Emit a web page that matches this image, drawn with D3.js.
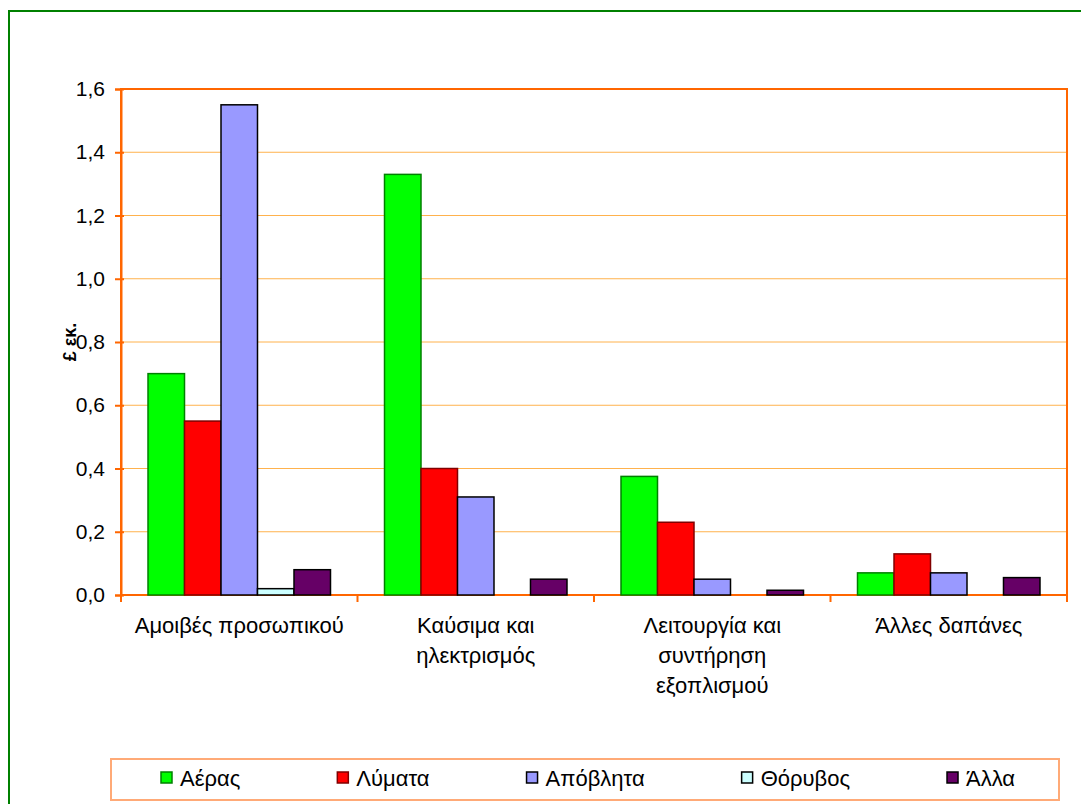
<!doctype html>
<html lang="el">
<head>
<meta charset="utf-8">
<title>Κόστος ανά κατηγορία</title>
<script src="https://d3js.org/d3.v7.min.js"></script>
<style>
  body { margin: 0; background: #fff; }
  svg text { font-family: "Liberation Sans", Arial, sans-serif; fill: #000; }
</style>
</head>
<body>
<script>
// chart data
var categories = [
  ["Αμοιβές προσωπικού"],
  ["Καύσιμα και", "ηλεκτρισμός"],
  ["Λειτουργία και", "συντήρηση", "εξοπλισμού"],
  ["Άλλες δαπάνες"]
];
var seriesNames = ["Αέρας", "Λύματα", "Απόβλητα", "Θόρυβος", "Άλλα"];
var aeras    = [0.70, 1.33, 0.375, 0.07];
var lymata   = [0.55, 0.40, 0.23, 0.13];
var apovlita = [1.55, 0.31, 0.05, 0.07];
var thoryvos = [0.02, 0, 0, 0];
var alla     = [0.08, 0.05, 0.015, 0.055];
var yTicks = [0, 0.2, 0.4, 0.6, 0.8, 1.0, 1.2, 1.4, 1.6];

var seriesValues = [aeras, lymata, apovlita, thoryvos, alla];
var fills   = ["#00ff00", "#ff0000", "#9999ff", "#ccffff", "#660066"];
var strokes = ["#008000", "#800000", "#000000", "#000000", "#000000"];

var width = 1081, height = 804;
var plot = { left: 121, top: 89, right: 1067, bottom: 595 };

var svg = d3.select("body").append("svg")
  .attr("width", width)
  .attr("height", height);

// outer chart frame (runs past the right and bottom edge)
svg.append("rect")
  .attr("x", 9).attr("y", 11)
  .attr("width", 1100).attr("height", 820)
  .attr("fill", "#fff")
  .attr("stroke", "#008000")
  .attr("stroke-width", 2);

var x0 = d3.scaleBand()
  .domain(d3.range(categories.length))
  .range([plot.left, plot.right]);

var x1 = d3.scaleBand()
  .domain(d3.range(seriesNames.length))
  .range([0, x0.bandwidth()])
  .paddingOuter(0.74);

var y = d3.scaleLinear()
  .domain([0, 1.6])
  .range([plot.bottom, plot.top]);

var fmt = function(v) { return d3.format(".1f")(v).replace(".", ","); };

// gridlines
svg.append("g")
  .selectAll("line")
  .data(yTicks.slice(1))
  .enter().append("line")
  .attr("x1", plot.left).attr("x2", plot.right)
  .attr("y1", d => y(d)).attr("y2", d => y(d))
  .attr("stroke", "#ffb24d")
  .attr("stroke-width", 1);

// plot frame
svg.append("rect")
  .attr("x", plot.left).attr("y", plot.top)
  .attr("width", plot.right - plot.left)
  .attr("height", plot.bottom - plot.top)
  .attr("fill", "none")
  .attr("stroke", "#ff6600")
  .attr("stroke-width", 2);

// bars
var groups = svg.append("g")
  .selectAll("g")
  .data(categories)
  .enter().append("g")
  .attr("transform", (d, i) => "translate(" + x0(i) + ",0)");

groups.selectAll("rect")
  .data((d, i) => seriesValues.map((s, k) => ({ k: k, v: s[i] })).filter(e => e.v > 0))
  .enter().append("rect")
  .attr("x", d => x1(d.k))
  .attr("width", x1.bandwidth())
  .attr("y", d => y(d.v))
  .attr("height", d => y(0) - y(d.v))
  .attr("fill", d => fills[d.k])
  .attr("stroke", d => strokes[d.k])
  .attr("stroke-width", 1.5);

// y axis
var yAxis = d3.axisLeft(y)
  .tickValues(yTicks)
  .tickFormat(fmt)
  .tickSize(6)
  .tickPadding(10);

var yg = svg.append("g")
  .attr("transform", "translate(" + plot.left + ",0)")
  .call(yAxis);
yg.select(".domain").attr("stroke", "#ff6600").attr("stroke-width", 2);
yg.selectAll(".tick line").attr("stroke", "#ff6600").attr("stroke-width", 2).attr("x2", -6).attr("x1", 3);
yg.selectAll(".tick text")
  .style("font-family", "'Liberation Sans', Arial, sans-serif")
  .style("font-size", "21px");

// x axis ticks at category boundaries
var bounds = d3.range(categories.length + 1).map(i => plot.left + i * x0.step());
svg.append("g")
  .selectAll("line")
  .data(bounds)
  .enter().append("line")
  .attr("x1", d => d).attr("x2", d => d)
  .attr("y1", plot.bottom).attr("y2", plot.bottom + 7)
  .attr("stroke", "#ff6600")
  .attr("stroke-width", 2);

// category labels
var xl = svg.append("g")
  .selectAll("text")
  .data(categories)
  .enter().append("text")
  .attr("text-anchor", "middle")
  .style("font-size", "22px")
  .attr("transform", (d, i) => "translate(" + (x0(i) + x0.bandwidth() / 2) + ",0)");

xl.selectAll("tspan")
  .data(d => d)
  .enter().append("tspan")
  .attr("x", 0)
  .attr("y", (d, j) => 633 + j * 30)
  .text(d => d);

// y title
svg.append("text")
  .attr("transform", "translate(76," + ((plot.top + plot.bottom) / 2) + ") rotate(-90)")
  .attr("text-anchor", "middle")
  .style("font-size", "18px")
  .style("font-weight", "bold")
  .text("£ εκ.");

// legend
svg.append("rect")
  .attr("x", 111).attr("y", 759)
  .attr("width", 948).attr("height", 41)
  .attr("fill", "#fff")
  .attr("stroke", "#ffaa77")
  .attr("stroke-width", 2);

var legend = svg.append("g");
var lx = 161;
seriesNames.forEach(function(name, k) {
  legend.append("rect")
    .attr("x", lx).attr("y", 772)
    .attr("width", 11).attr("height", 11)
    .attr("fill", fills[k])
    .attr("stroke", strokes[k])
    .attr("stroke-width", 1.5);
  var t = legend.append("text")
    .attr("x", lx + 19).attr("y", 786)
    .style("font-size", "22px")
    .text(name);
  lx += 19 + t.node().getComputedTextLength() + 97;
});
</script>
</body>
</html>
